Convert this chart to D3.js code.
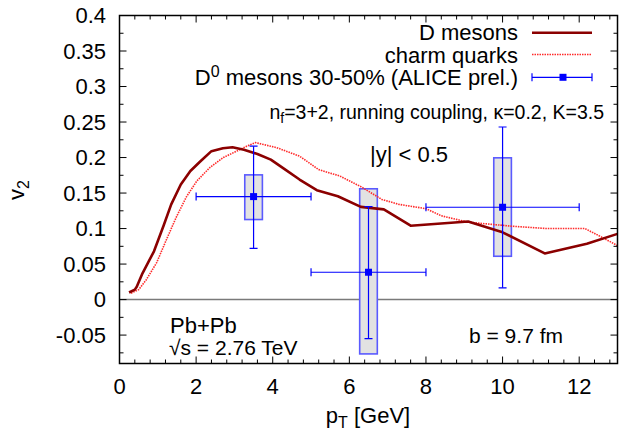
<!DOCTYPE html>
<html>
<head>
<meta charset="utf-8">
<script src="https://cdn.jsdelivr.net/npm/d3@7"></script>
<style>
  body { margin: 0; background: #fff; }
  svg text { font-family: "Liberation Sans", Arial, Helvetica, sans-serif; fill: #000; }
</style>
</head>
<body>
<svg id="chart" width="619" height="432"></svg>
<script>
// D meson v2 (model curve)
var dMesonPt = [0.25, 0.4, 0.45, 0.6, 0.9, 1.15, 1.35, 1.6, 1.85, 2.1, 2.4, 2.7, 2.95, 3.25, 3.6, 3.95, 4.3, 4.7, 5.15, 5.7, 6.3, 6.9, 7.6, 9.1, 10.0, 11.1, 12.2, 13.0];
var dMesonV2 = [0.010, 0.014, 0.018, 0.037, 0.068, 0.104, 0.134, 0.162, 0.181, 0.194, 0.209, 0.213, 0.2145, 0.211, 0.205, 0.197, 0.184, 0.169, 0.154, 0.1455, 0.1305, 0.127, 0.104, 0.110, 0.0947, 0.065, 0.0785, 0.0925];

// charm quark v2 (model curve)
var charmPt = [0.3, 0.5, 0.7, 0.97, 1.23, 1.49, 1.75, 2.02, 2.36, 2.71, 3.06, 3.32, 3.55, 4.1, 4.7, 5.2, 5.75, 6.3, 6.85, 7.3, 8.0, 8.4, 9.1, 10.2, 11.15, 12.15, 12.55, 13.0];
var charmV2 = [0.009, 0.014, 0.028, 0.052, 0.085, 0.117, 0.145, 0.167, 0.186, 0.200, 0.209, 0.216, 0.221, 0.214, 0.202, 0.183, 0.174, 0.159, 0.141, 0.134, 0.128, 0.118, 0.109, 0.1035, 0.100, 0.100, 0.089, 0.076];

// ALICE D0 30-50% preliminary
var alicePt = [3.5, 6.5, 10.0];
var alicePtLow = [2.0, 5.0, 8.0];
var alicePtHigh = [5.0, 8.0, 12.0];
var aliceV2 = [0.145, 0.0385, 0.130];
var aliceStatLow = [0.072, -0.055, 0.0165];
var aliceStatHigh = [0.216, 0.131, 0.243];
var aliceSysLow = [0.1127, -0.0765, 0.061];
var aliceSysHigh = [0.1756, 0.156, 0.1996];

var xTicks = [0, 2, 4, 6, 8, 10, 12];
var yTicks = [-0.05, 0, 0.05, 0.1, 0.15, 0.2, 0.25, 0.3, 0.35, 0.4];

var svg = d3.select("#chart");
var plotLeft = 119.5, plotRight = 617.5, plotTop = 15.5, plotBottom = 363.5;
var fs = "22px";

var x = d3.scaleLinear().domain([0, 13]).range([plotLeft, plotRight]);
var y = d3.scaleLinear().domain([-0.09, 0.4]).range([plotBottom, plotTop]);

svg.append("defs").append("clipPath").attr("id", "plotclip")
  .append("rect").attr("x", plotLeft).attr("y", plotTop)
  .attr("width", plotRight - plotLeft).attr("height", plotBottom - plotTop);

// zero line
svg.append("line")
  .attr("x1", plotLeft).attr("x2", plotRight).attr("y1", y(0)).attr("y2", y(0))
  .style("stroke", "#7a7a7a").style("stroke-width", 1.5);

var plot = svg.append("g").attr("clip-path", "url(#plotclip)");

var line = d3.line().x(function(d) { return x(d[0]); }).y(function(d) { return y(d[1]); });

var dData = dMesonPt.map(function(p, i) { return [p, dMesonV2[i]]; });
var cData = charmPt.map(function(p, i) { return [p, charmV2[i]]; });

// systematic boxes
var boxHalf = 0.23;
plot.selectAll("rect.sys").data(alicePt).enter().append("rect")
  .attr("class", "sys")
  .attr("x", function(d) { return x(d - boxHalf); })
  .attr("width", function(d) { return x(d + boxHalf) - x(d - boxHalf); })
  .attr("y", function(d, i) { return y(aliceSysHigh[i]); })
  .attr("height", function(d, i) { return y(aliceSysLow[i]) - y(aliceSysHigh[i]); })
  .style("fill", "#e2e2e2").style("stroke", "#5a5aff").style("stroke-width", 1.6);

plot.append("path").datum(cData).attr("d", line)
  .style("fill", "none").style("stroke", "#ff2a2a").style("stroke-width", 1.6)
  .style("stroke-dasharray", "1.5,1");

plot.append("path").datum(dData).attr("d", line)
  .style("fill", "none").style("stroke", "#8b0000").style("stroke-width", 2.6)
  .style("stroke-linejoin", "round");

// error bars
var errs = plot.append("g").style("stroke", "#0000ff").style("stroke-width", 1.2);
alicePt.forEach(function(p, i) {
  var cx = x(p), cy = y(aliceV2[i]);
  errs.append("line").attr("x1", x(alicePtLow[i])).attr("x2", x(alicePtHigh[i])).attr("y1", cy).attr("y2", cy);
  errs.append("line").attr("x1", x(alicePtLow[i])).attr("x2", x(alicePtLow[i])).attr("y1", cy - 4).attr("y2", cy + 4);
  errs.append("line").attr("x1", x(alicePtHigh[i])).attr("x2", x(alicePtHigh[i])).attr("y1", cy - 4).attr("y2", cy + 4);
  errs.append("line").attr("x1", cx).attr("x2", cx).attr("y1", y(aliceStatLow[i])).attr("y2", y(aliceStatHigh[i]));
  errs.append("line").attr("x1", cx - 4).attr("x2", cx + 4).attr("y1", y(aliceStatLow[i])).attr("y2", y(aliceStatLow[i]));
  errs.append("line").attr("x1", cx - 4).attr("x2", cx + 4).attr("y1", y(aliceStatHigh[i])).attr("y2", y(aliceStatHigh[i]));
  plot.append("rect").attr("x", cx - 3.5).attr("y", cy - 3.5).attr("width", 7).attr("height", 7).style("fill", "#0000ff");
});

// frame + ticks (gnuplot style, inside, mirrored)
var ticks = svg.append("g").style("stroke", "#000").style("stroke-width", 1);
d3.range(0, 13.01, 0.4).forEach(function(v) {
  var major = Math.abs(v / 2 - Math.round(v / 2)) < 1e-6;
  var len = major ? 7 : 4;
  ticks.append("line").attr("x1", x(v)).attr("x2", x(v)).attr("y1", plotBottom).attr("y2", plotBottom - len);
  ticks.append("line").attr("x1", x(v)).attr("x2", x(v)).attr("y1", plotTop).attr("y2", plotTop + len);
});
d3.range(-0.075, 0.4001, 0.025).forEach(function(v) {
  var major = Math.abs(v / 0.05 - Math.round(v / 0.05)) < 1e-6;
  var len = major ? 7 : 4;
  ticks.append("line").attr("x1", plotLeft).attr("x2", plotLeft + len).attr("y1", y(v)).attr("y2", y(v));
  ticks.append("line").attr("x1", plotRight).attr("x2", plotRight - len).attr("y1", y(v)).attr("y2", y(v));
});
svg.append("rect").attr("x", plotLeft).attr("y", plotTop)
  .attr("width", plotRight - plotLeft).attr("height", plotBottom - plotTop)
  .style("fill", "none").style("stroke", "#000").style("stroke-width", 1.5);

// tick labels
svg.selectAll("text.xt").data(xTicks).enter().append("text")
  .attr("class", "xt").attr("x", function(d) { return x(d); }).attr("y", 394)
  .attr("text-anchor", "middle").style("font-size", fs).text(function(d) { return d; });
svg.selectAll("text.yt").data(yTicks).enter().append("text")
  .attr("class", "yt").attr("x", 106).attr("y", function(d) { return y(d) + 7.8; })
  .attr("text-anchor", "end").style("font-size", fs).text(function(d) { return String(+d.toFixed(2)); });

// axis labels
var xl = svg.append("text").attr("x", 368).attr("y", 423).attr("text-anchor", "middle").style("font-size", fs);
xl.append("tspan").text("p");
xl.append("tspan").attr("dy", 5).style("font-size", "16px").text("T");
xl.append("tspan").attr("dy", -5).text(" [GeV]");

var yl = svg.append("text").attr("transform", "translate(24,190) rotate(-90)").attr("text-anchor", "middle").style("font-size", fs);
yl.append("tspan").text("v");
yl.append("tspan").attr("dy", 5).style("font-size", "16px").text("2");

// legend
var legX1 = 532, legX2 = 592, legTextX = 518;
svg.append("text").attr("x", legTextX).attr("y", 40).attr("text-anchor", "end").style("font-size", fs).text("D mesons");
svg.append("line").attr("x1", legX1).attr("x2", legX2).attr("y1", 32.7).attr("y2", 32.7)
  .style("stroke", "#8b0000").style("stroke-width", 2.6);
svg.append("text").attr("x", legTextX).attr("y", 62.5).attr("text-anchor", "end").style("font-size", fs).text("charm quarks");
svg.append("line").attr("x1", legX1).attr("x2", legX2).attr("y1", 54.5).attr("y2", 54.5)
  .style("stroke", "#ff2a2a").style("stroke-width", 1.6).style("stroke-dasharray", "1.5,1");
var l3 = svg.append("text").attr("x", legTextX).attr("y", 85).attr("text-anchor", "end").style("font-size", fs);
l3.append("tspan").text("D");
l3.append("tspan").attr("dy", -8).style("font-size", "16px").text("0");
l3.append("tspan").attr("dy", 8).text(" mesons 30-50% (ALICE prel.)");
var lg = svg.append("g").style("stroke", "#0000ff").style("stroke-width", 1.2);
lg.append("line").attr("x1", legX1).attr("x2", legX2).attr("y1", 77.3).attr("y2", 77.3);
lg.append("line").attr("x1", legX1).attr("x2", legX1).attr("y1", 73.3).attr("y2", 81.3);
lg.append("line").attr("x1", legX2).attr("x2", legX2).attr("y1", 73.3).attr("y2", 81.3);
svg.append("rect").attr("x", 559.5).attr("y", 73.8).attr("width", 7).attr("height", 7).style("fill", "#0000ff");

// annotations
var nf = svg.append("text").attr("x", 604).attr("y", 119).attr("text-anchor", "end").style("font-size", "19.5px");
nf.append("tspan").text("n");
nf.append("tspan").attr("dy", 4).style("font-size", "14px").text("f");
nf.append("tspan").attr("dy", -4).text("=3+2, running coupling, \u03ba=0.2, K=3.5");

svg.append("text").attr("x", 370).attr("y", 162).style("font-size", fs).text("|y| < 0.5");
svg.append("text").attr("x", 170).attr("y", 333).style("font-size", fs).text("Pb+Pb");
svg.append("text").attr("x", 169).attr("y", 355).style("font-size", "21px").text("\u221as = 2.76 TeV");
svg.append("text").attr("x", 469).attr("y", 343).style("font-size", "21px").text("b = 9.7 fm");
</script>
</body>
</html>
